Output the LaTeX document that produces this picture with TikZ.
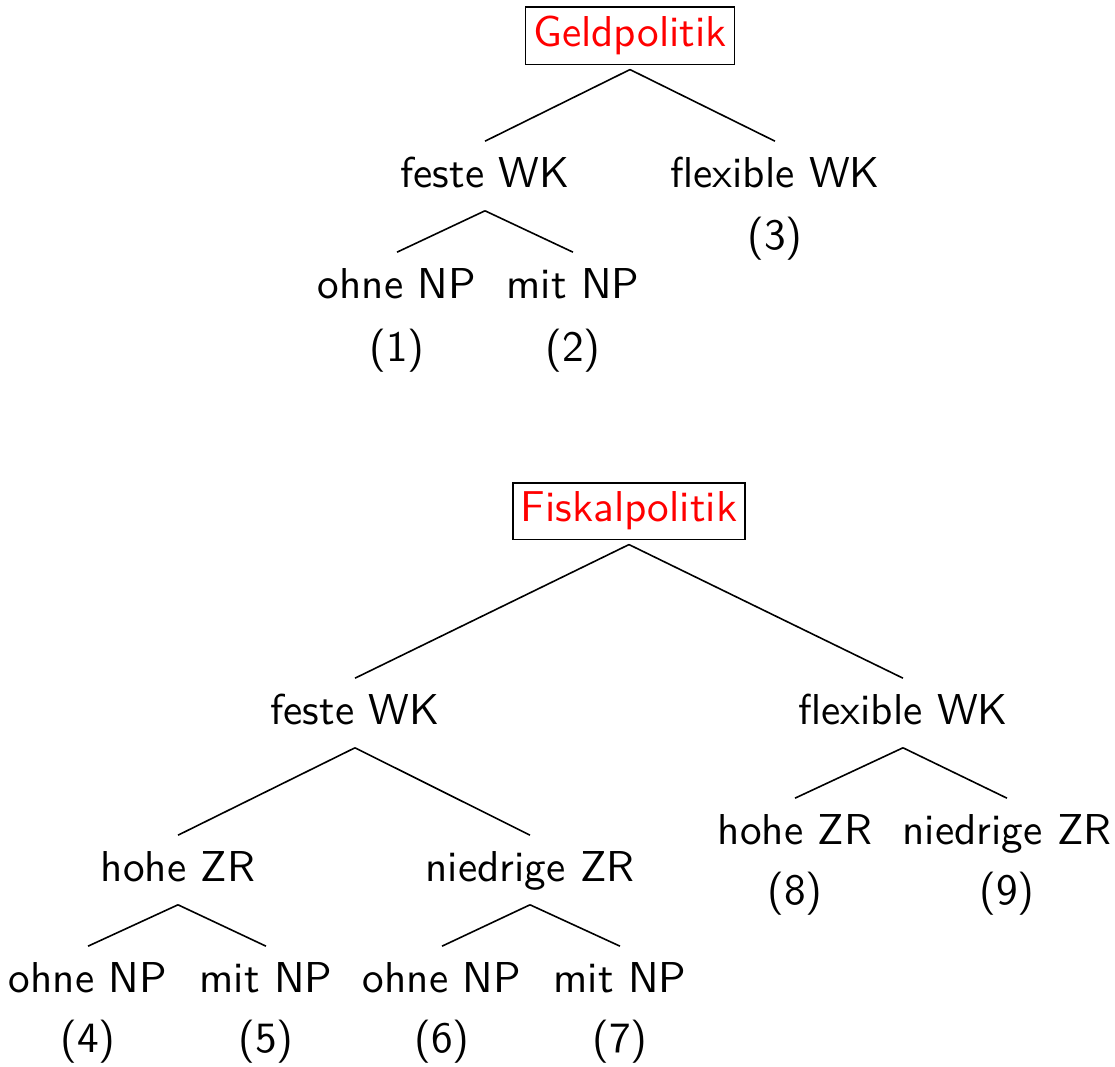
\documentclass[tikz,border=0pt]{standalone}
\usepackage{fontspec}
\begin{document}
\begin{tikzpicture}[x=0.25pt,y=-0.25pt,
  every node/.style={font=\sffamily\fontsize{10.8}{13}\selectfont},
  lbl/.style={anchor=base,inner xsep=0pt,inner ysep=3.25pt,text height=8.25pt,text depth=2.25pt},
  num/.style={anchor=base,inner sep=0pt},
  rootbox/.style={anchor=base,draw,text=red,inner xsep=1.9pt,inner ysep=2.3pt,outer sep=1.25pt},
  edge/.style={line width=0.4pt}]
\useasboundingbox (0,0) rectangle (1115,1067);
% Geldpolitik tree
\node[rootbox] (G) at (630,47) {Geldpolitik};
\node[lbl] (gf) at (485,188) {feste WK};
\node[lbl] (gx) at (775,188) {flexible WK};
\node[num] (g3) at (775,250) {(3)};
\node[lbl] (go) at (397,299) {ohne NP};
\node[lbl] (gm) at (573,299) {mit NP};
\node[num] (g1) at (397,362) {(1)};
\node[num] (g2) at (573,362) {(2)};
\draw[edge] (G.south) -- (gf.north);
\draw[edge] (G.south) -- (gx.north);
\draw[edge] (gf.south) -- (go.north);
\draw[edge] (gf.south) -- (gm.north);
% Fiskalpolitik tree
\node[rootbox] (F) at (629,522) {Fiskalpolitik};
\node[lbl] (ff) at (355,725) {feste WK};
\node[lbl] (fx) at (903,725) {flexible WK};
\node[lbl] (fh) at (178,882) {hohe ZR};
\node[lbl] (fn) at (530,882) {niedrige ZR};
\node[lbl] (xh) at (795,845) {hohe ZR};
\node[lbl] (xn) at (1007,845) {niedrige ZR};
\node[num] (f8) at (795,905) {(8)};
\node[num] (f9) at (1007,905) {(9)};
\node[lbl] (fho) at (88,993) {ohne NP};
\node[lbl] (fhm) at (266,993) {mit NP};
\node[lbl] (fno) at (442,993) {ohne NP};
\node[lbl] (fnm) at (620,993) {mit NP};
\node[num] (f4) at (88,1053) {(4)};
\node[num] (f5) at (266,1053) {(5)};
\node[num] (f6) at (442,1053) {(6)};
\node[num] (f7) at (620,1053) {(7)};
\draw[edge] (F.south) -- (ff.north);
\draw[edge] (F.south) -- (fx.north);
\draw[edge] (ff.south) -- (fh.north);
\draw[edge] (ff.south) -- (fn.north);
\draw[edge] (fx.south) -- (xh.north);
\draw[edge] (fx.south) -- (xn.north);
\draw[edge] (fh.south) -- (fho.north);
\draw[edge] (fh.south) -- (fhm.north);
\draw[edge] (fn.south) -- (fno.north);
\draw[edge] (fn.south) -- (fnm.north);
\end{tikzpicture}
\end{document}
